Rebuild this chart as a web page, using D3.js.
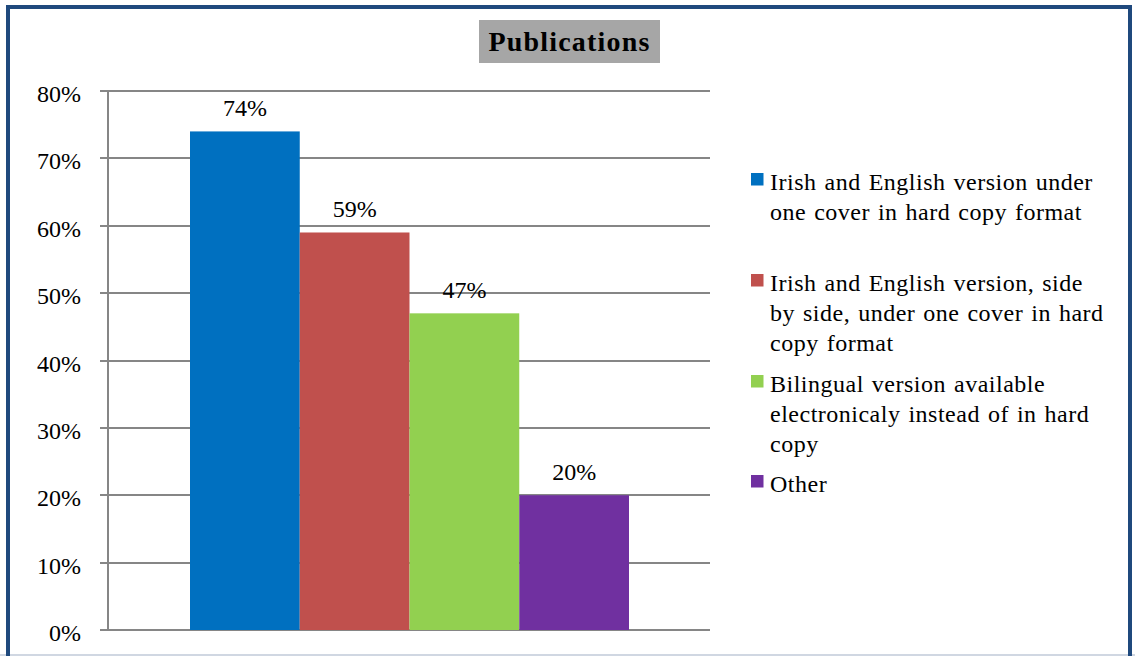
<!DOCTYPE html>
<head>
  <meta charset="utf-8">
  <script src="https://d3js.org/d3.v7.min.js"></script>
</head>
<body style="margin:0">
  <svg id="chart"></svg>
  <script>
  var series = [
    ["Irish and English version under", "one cover in hard copy format"],
    ["Irish and English version, side", "by side, under one cover in hard", "copy format"],
    ["Bilingual version available", "electronicaly instead of in hard", "copy"],
    ["Other"]
  ];
  var values = [0.74, 0.59, 0.47, 0.20];
  var colors = ["#0070C0", "#C0504D", "#92D050", "#7030A0"];
  var ticks = [0, 0.1, 0.2, 0.3, 0.4, 0.5, 0.6, 0.7, 0.8];
  var legendY = [190, 291, 392, 492];

  var W = 1135, H = 656;
  var FONT = "Times New Roman, Liberation Serif, Tinos, DejaVu Serif, serif";
  var svg = d3.select("#chart").attr("width", W).attr("height", H)
    .attr("font-family", FONT);

  // outer frame
  svg.append("line").attr("x1", 0).attr("x2", W).attr("y1", 655).attr("y2", 655)
    .attr("stroke", "#D0D7E2").attr("stroke-width", 2);
  svg.append("path").attr("d", "M8,656 V7 H1130 V656")
    .attr("fill", "none").attr("stroke", "#1F497D").attr("stroke-width", 4);

  // title
  svg.append("rect").attr("x", 479).attr("y", 20).attr("width", 181).attr("height", 43).attr("fill", "#A6A6A6");
  svg.append("text").attr("x", 569.5).attr("y", 51).attr("text-anchor", "middle")
    .attr("font-family", FONT).attr("font-size", 28).attr("font-weight", "bold")
    .attr("letter-spacing", 1.2).text("Publications");

  var x0 = 108, x1 = 710;
  var y = d3.scaleLinear().domain([0, 0.8]).range([630, 91]);
  var x = d3.scaleBand().domain(d3.range(values.length)).range([190, 629]);

  var grid = svg.append("g").attr("stroke", "#868686").attr("stroke-width", 1.5)
    .attr("shape-rendering", "crispEdges");
  grid.selectAll("line").data(ticks).enter().append("line")
    .attr("x1", 100).attr("x2", x1)
    .attr("y1", function(d) { return Math.round(y(d)); })
    .attr("y2", function(d) { return Math.round(y(d)); });
  grid.append("line").attr("x1", x0).attr("x2", x0).attr("y1", y(0.8)).attr("y2", y(0));

  svg.append("g").selectAll("text").data(ticks).enter().append("text")
    .attr("x", 81).attr("y", function(d) { return y(d) + 11; })
    .attr("text-anchor", "end")
    .attr("font-family", FONT).attr("font-size", 24)
    .text(function(d) { return Math.round(d * 100) + "%"; });

  svg.append("g").selectAll("rect").data(values).enter().append("rect")
    .attr("x", function(d, i) { return x(i); })
    .attr("width", x.bandwidth())
    .attr("y", function(d) { return y(d); })
    .attr("height", function(d) { return y(0) - y(d); })
    .attr("fill", function(d, i) { return colors[i]; });

  svg.append("g").selectAll("text").data(values).enter().append("text")
    .attr("x", function(d, i) { return x(i) + x.bandwidth() / 2; })
    .attr("y", function(d) { return y(d) - 15; })
    .attr("text-anchor", "middle")
    .attr("font-family", FONT).attr("font-size", 24)
    .text(function(d) { return Math.round(d * 100) + "%"; });

  // legend
  var leg = svg.append("g").selectAll("g").data(series).enter().append("g");
  leg.append("rect").attr("x", 751).attr("y", function(d, i) { return legendY[i] - 17; })
    .attr("width", 12.5).attr("height", 12.5)
    .attr("fill", function(d, i) { return colors[i]; });
  leg.each(function(d, i) {
    d3.select(this).selectAll("text").data(d).enter().append("text")
      .attr("x", 770).attr("y", function(line, j) { return legendY[i] + j * 30; })
      .attr("font-family", FONT).attr("font-size", 24)
      .attr("letter-spacing", 0.5).attr("word-spacing", 1.5)
      .text(function(line) { return line; });
  });
  </script>
</body>
